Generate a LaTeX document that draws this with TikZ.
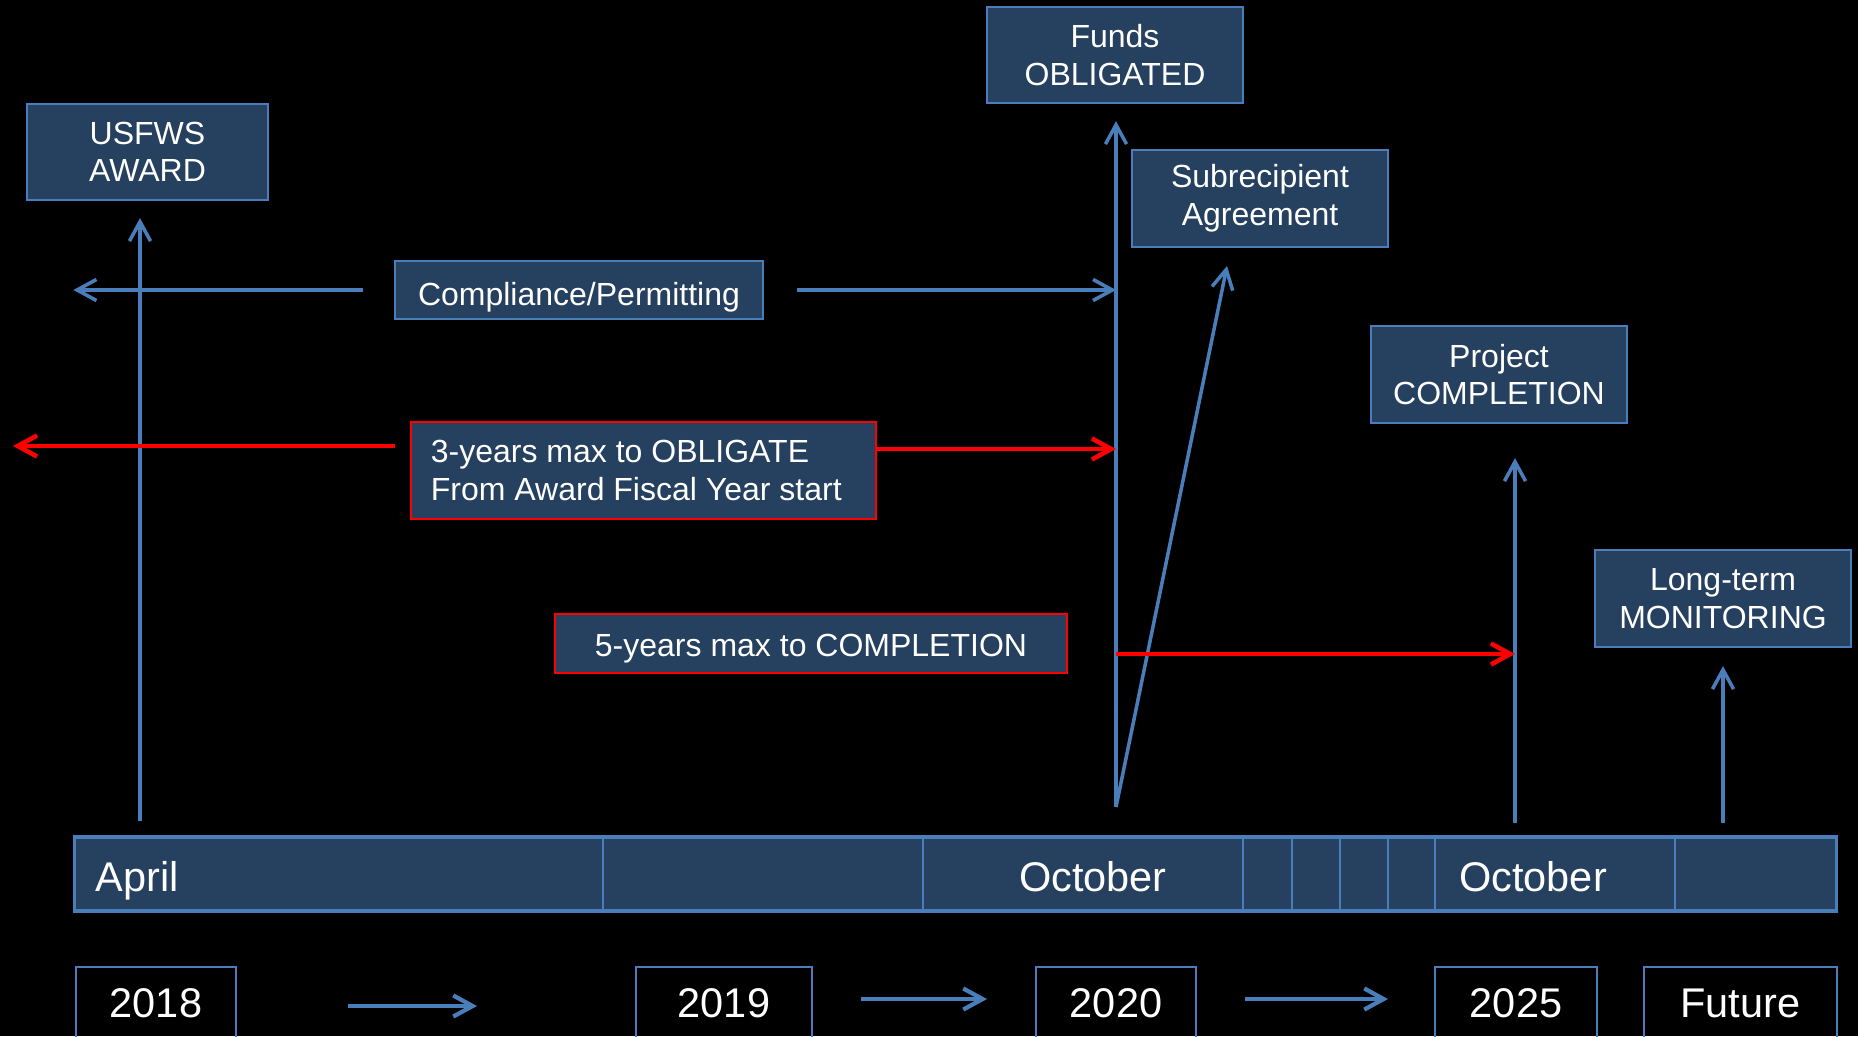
\documentclass[tikz,border=0pt]{standalone}
\usepackage{fontspec}
\setmainfont{Liberation Sans}
\usetikzlibrary{arrows.meta}

\definecolor{boxfill}{RGB}{38,64,95}
\definecolor{boxline}{RGB}{74,126,187}
\definecolor{redline}{RGB}{255,0,0}

\tikzset{
  tbox/.style={draw=boxline, line width=0.6pt, fill=boxfill, text=white,
    align=center, inner sep=0pt, font=\fontsize{9.1}{10.7}\selectfont},
  rbox/.style={tbox, draw=redline},
  yearbox/.style={draw=boxline, line width=0.6pt, text=white, inner sep=0pt,
    minimum height=0.72cm, font=\fontsize{11.8}{13}\selectfont},
  bartext/.style={text=white, inner sep=0pt, font=\fontsize{11.8}{13}\selectfont},
  barrow/.style={draw=boxline, line width=1pt, -{Straight Barb[length=5.5pt,width=6pt]}},
  rarrow/.style={draw=redline, line width=1.3pt, -{Straight Barb[length=5.5pt,width=6pt]}},
}

\begin{document}
\begin{tikzpicture}[x=0.01cm, y=-0.01cm]
\useasboundingbox (0,0) rectangle (1858,1036);
\fill[black] (0,0) rectangle (1858,1036);
\clip (0,0) rectangle (1858,1036);

% the boxes
\node[tbox, minimum width=2.41cm, minimum height=0.96cm] (usfws) at (147.5,152) {USFWS\\AWARD};
\node[tbox, minimum width=2.56cm, minimum height=0.96cm] (funds) at (1115,55) {Funds\\OBLIGATED};
\node[tbox, minimum width=2.56cm, minimum height=0.97cm] (sub) at (1260,198.5) {Subrecipient\\Agreement};
\node[tbox, text height=8.6pt, text depth=0pt, minimum width=3.68cm, minimum height=0.58cm] (compl) at (579,290) {Compliance/Permitting};
\node[rbox, minimum width=4.65cm, minimum height=0.97cm, text width=4.25cm, align=flush left] (oblig) at (643.5,470.5) {3-years max to OBLIGATE\\From Award Fiscal Year start};
\node[tbox, minimum width=2.56cm, minimum height=0.97cm] (proj) at (1499,374.5) {Project\\COMPLETION};
\node[tbox, minimum width=2.56cm, minimum height=0.97cm] (mon) at (1723,598.5) {Long-term\\MONITORING};
\node[rbox, text height=7.6pt, text depth=0pt, minimum width=5.12cm, minimum height=0.59cm] (compl5) at (811,643.5) {5-years max to COMPLETION};

% timeline bar
\node[draw=boxline, fill=boxfill, line width=0.6pt, inner sep=0pt,
  minimum width=17.61cm, minimum height=0.72cm] (bar) at (955.5,874) {};
\foreach \d in {603,923,1243,1292,1340,1388,1435,1675}
  \draw[boxline, line width=0.6pt] (\d,838) -- (\d,910);
\draw[boxline, line width=1.2pt] (bar.north west) -- (bar.north east);
\draw[boxline, line width=1.2pt] (bar.south west) -- (bar.south east);
\node[bartext, anchor=base west] (apr) at (95,891) {April};
\node[bartext, anchor=base] (oct1) at (1093,891) {October};
\node[bartext, anchor=base] (oct2) at (1533,891) {October};

% years
\node[yearbox, minimum width=1.6cm] (y2018) at (156,1003) {2018};
\node[yearbox, minimum width=1.76cm] (y2019) at (724,1003) {2019};
\node[yearbox, minimum width=1.6cm] (y2020) at (1116,1003) {2020};
\node[yearbox, minimum width=1.62cm] (y2025) at (1516,1003) {2025};
\node[yearbox, minimum width=1.93cm] (yfut) at (1740.5,1003) {Future};

\coordinate (ya) at (348,1006);
\coordinate (yb) at (477,1006);
\coordinate (yc) at (861,999);
\coordinate (yd) at (987,999);
\coordinate (ye) at (1245,999);
\coordinate (yf) at (1388,999);
\draw[barrow, line width=1.2pt] (ya) -- (yb);
\draw[barrow, line width=1.2pt] (yc) -- (yd);
\draw[barrow, line width=1.2pt] (ye) -- (yf);

% feet of the vertical arrows
\coordinate (awardfoot) at (140,821);
\coordinate (fundsfoot) at (1116,807);
\coordinate (projfoot) at (1515,823);
\coordinate (monfoot) at (1723,823);
\coordinate (subtip) at (1227,266);
\coordinate (redleft) at (13,446);

\draw[barrow, shorten >=0.17cm] (awardfoot) -- (awardfoot |- usfws.south);
\draw[barrow, shorten >=0.17cm] (fundsfoot) -- (fundsfoot |- funds.south);
\draw[barrow] (fundsfoot) -- (subtip);
\draw[barrow, shorten >=0.34cm] (projfoot) -- (projfoot |- proj.south);
\draw[barrow, shorten >=0.18cm] (monfoot) -- (monfoot |- mon.south);

% compliance
\draw[barrow, shorten <=0.31cm] (compl.west) -- (compl.west -| bar.west);
\draw[barrow, shorten <=0.33cm] (compl.east) -- (compl.east -| fundsfoot);

% red limits
\draw[rarrow, shorten <=0.15cm] (oblig.west |- redleft) -- (redleft);
\draw[rarrow] (oblig.east |- 0,449) -- (fundsfoot |- 0,449);
\draw[rarrow] (fundsfoot |- 0,654) -- (projfoot |- 0,654);

\end{tikzpicture}
\end{document}
